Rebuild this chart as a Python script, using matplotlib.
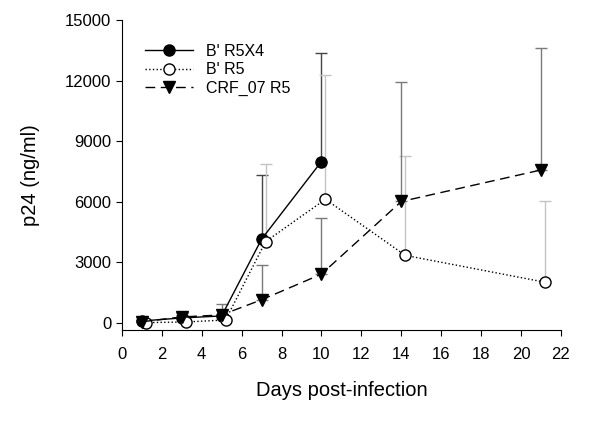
import numpy as np
from matplotlib import pyplot as plt

plt.rcParams['font.family'] = ['Liberation Sans', 'DejaVu Sans']

# days post-infection
days_r5x4 = [1, 3, 5, 7, 10]
days_r5 = [1.2, 3.2, 5.2, 7.2, 10.2, 14.2, 21.2]
days_crf = [1, 3, 5, 7, 10, 14, 21]

# p24 means (ng/ml)
r5x4 = [100, 250, 350, 4150, 8000]
r5 = [20, 50, 150, 4030, 6130, 3350, 2020]
crf = [60, 300, 400, 1150, 2420, 6020, 7580]

# upper ends of the error bars
r5x4_top = [150, 400, 450, 7330, 13400]
r5_top = [40, 80, 250, 7860, 12300, 8290, 6050]
crf_top = [100, 500, 950, 2880, 5220, 11950, 13600]

xticks = np.arange(0, 23, 2)
yticks = [0, 3000, 6000, 9000, 12000, 15000]


def plot_series(ax, x, y, top, color_err, **kw):
    y = np.array(y)
    err = np.array(top) - y
    ax.errorbar(x, y, yerr=[np.zeros_like(err), err], fmt='none',
                ecolor=color_err, elinewidth=1, capsize=4, capthick=1,
                zorder=1)
    return ax.plot(x, y, zorder=3, **kw)[0]


def main():
    fig = plt.figure(figsize=(6, 4.21), dpi=100)
    ax = fig.add_axes([0.203, 0.216, 0.732, 0.736])

    h1 = plot_series(ax, days_r5x4, r5x4, r5x4_top, '#444444',
                     color='black', linestyle='-', linewidth=1,
                     marker='o', markersize=8, markerfacecolor='black',
                     label="B' R5X4")
    h2 = plot_series(ax, days_r5, r5, r5_top, '#c4c4c4',
                     color='black', linestyle=':', linewidth=1,
                     marker='o', markersize=8, markerfacecolor='white',
                     label="B' R5")
    h3 = plot_series(ax, days_crf, crf, crf_top, '#7a7a7a',
                     color='black', linestyle=(0, (7, 4)), linewidth=1,
                     marker='v', markersize=8, markerfacecolor='black',
                     label='CRF_07 R5')

    ax.set_xlim(0, 22)
    ax.set_ylim(-350, 15000)
    ax.set_xticks(xticks)
    ax.set_yticks(yticks)
    ax.spines['top'].set_visible(False)
    ax.spines['right'].set_visible(False)
    ax.tick_params(direction='out', length=4, labelsize=12)
    ax.tick_params(axis='x', pad=8)
    ax.set_xlabel('Days post-infection', fontsize=14.5, labelpad=14)
    ax.set_ylabel('p24 (ng/ml)', fontsize=14.5, labelpad=18)

    ax.legend(handles=[h1, h2, h3], loc='upper left', frameon=False,
              fontsize=11.5, bbox_to_anchor=(0.02, 0.97), handlelength=3.0,
              labelspacing=0.22)

    fig.savefig('out.png', dpi=100)


if __name__ == '__main__':
    main()
